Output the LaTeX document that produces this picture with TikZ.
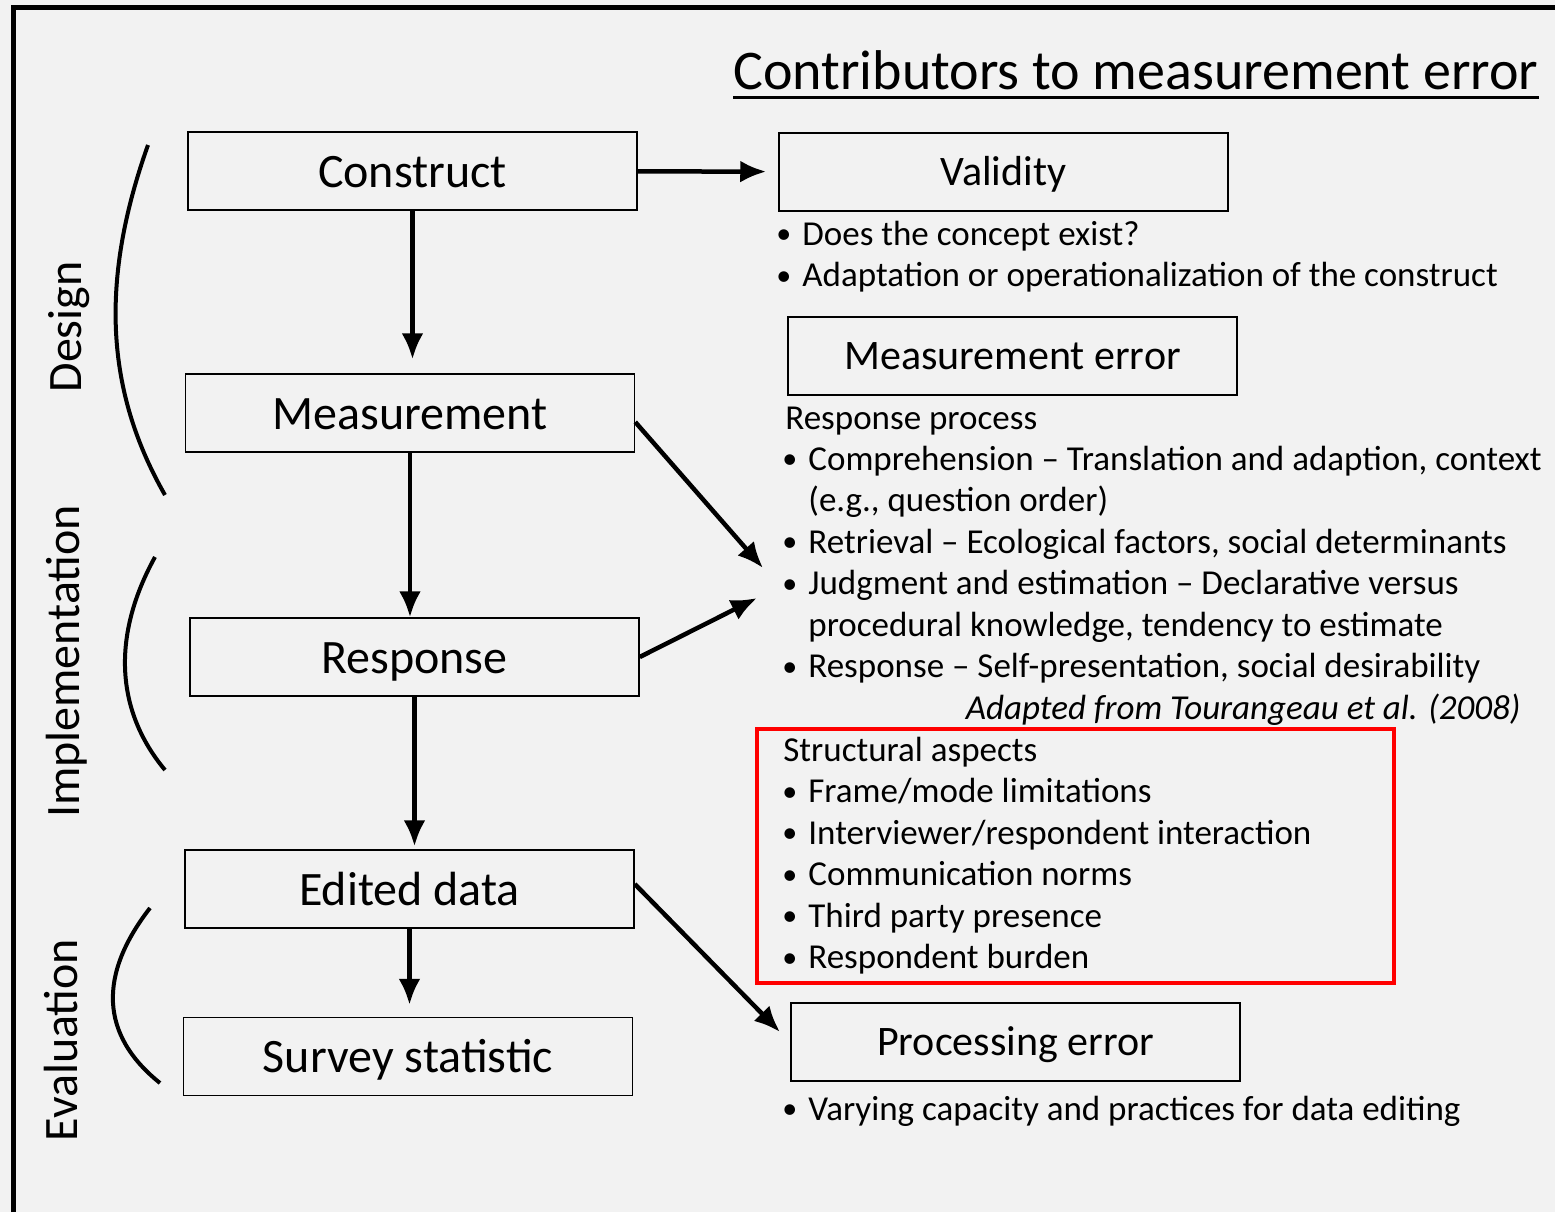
\documentclass[tikz,border=0pt]{standalone}
\usepackage{fontspec}
\setmainfont{Carlito}
\usetikzlibrary{arrows.meta}

\definecolor{paper}{HTML}{F2F2F2}

\newcommand{\dotitem}{\makebox[13pt][l]{\fontsize{15}{15}\selectfont\raisebox{0.6pt}{\textbullet}}}

\tikzset{
	stage/.style = {draw, line width = 0.75pt, minimum width = 224.5pt, minimum height = 39pt, text height = 19pt, text depth = 3pt, font = \fontsize{24}{28}\selectfont},
	source/.style = {draw, line width = 0.75pt, minimum width = 224.5pt, minimum height = 39pt, text height = 16.5pt, text depth = 3.5pt, font = \fontsize{21}{25}\selectfont},
	line/.style = {anchor = base west, inner sep = 0pt, font = \fontsize{17.5}{21}\selectfont},
	phase/.style = {anchor = base, rotate = 90, inner sep = 0pt, font = \fontsize{24}{28}\selectfont},
	brace/.style = {line width = 2pt},
}

\begin{document}
\begin{tikzpicture}[> = {Latex[length = 13pt, width = 11pt]}, x = 0.5pt, y = -0.5pt]

	\fill [paper] (0, 0) rectangle (1555, 1212);
	\useasboundingbox (0, 0) rectangle (1555, 1212);
	\draw [line width = 2.5pt] (13.5, 1212) -- (13.5, 7.5) -- (1555, 7.5);

	\node [anchor = base west, inner sep = 0pt, font = \fontsize{28}{33}\selectfont] (title) at (733, 89) {Contributors to measurement error};
	\draw [line width = 1.5pt] ([yshift = -4pt] title.base west) -- ([yshift = -4pt] title.base east);

	% stages
	\node [stage] (construct) at (412.5, 171) {Construct};
	\node [stage] (measurement) at (410, 413) {Measurement};
	\node [stage] (response) at (414.5, 657) {Response};
	\node [stage] (edited) at (409.5, 889) {Edited data};
	\node [stage] (statistic) at (408, 1056.5) {Survey statistic};

	\node [phase] (design) at (82, 327) {Design};
	\node [phase] (implementation) at (79, 661.5) {Implementation};
	\node [phase] (evaluation) at (77, 1040) {Evaluation};

	\draw [brace] (148, 145) .. controls (100, 280) and (105, 390) .. (165, 495);
	\draw [brace] (155, 557) .. controls (112, 635) and (115, 710) .. (165, 770);
	\draw [brace] (150, 908) .. controls (98, 975) and (100, 1035) .. (160, 1083);

	% error sources
	\node [source] (validity) at (1003.5, 172) {Validity};
	\node [source] (error) at (1012.5, 356) {Measurement error};
	\node [source] (processing) at (1015.5, 1042) {Processing error};

	\node [line] (concept) at (776, 245) {\dotitem Does the concept exist?};
	\node [line] (adaptation) at (776, 286.5) {\dotitem Adaptation or operationalization of the construct};

	\node [line] (process) at (785, 429) {Response process};
	\node [line] (comprehension) at (782, 470) {\dotitem Comprehension – Translation and adaption, context};
	\node [line] (order) at (808, 511.5) {(e.g., question order)};
	\node [line] (retrieval) at (782, 553) {\dotitem Retrieval – Ecological factors, social determinants};
	\node [line] (judgment) at (782, 594.5) {\dotitem Judgment and estimation – Declarative versus};
	\node [line] (knowledge) at (808, 636) {procedural knowledge, tendency to estimate};
	\node [line] (reply) at (782, 677.5) {\dotitem Response – Self-presentation, social desirability};
	\node [line, anchor = base east] (cite) at (1521, 719) {\itshape Adapted from Tourangeau et al. (2008)};

	\draw [red, line width = 2pt] (757, 729) rectangle (1394, 983);
	\node [line] (structural) at (783, 761) {Structural aspects};
	\node [line] (frame) at (782, 802.5) {\dotitem Frame/mode limitations};
	\node [line] (interaction) at (782, 844) {\dotitem Interviewer/respondent interaction};
	\node [line] (norms) at (782, 885.5) {\dotitem Communication norms};
	\node [line] (presence) at (782, 927) {\dotitem Third party presence};
	\node [line] (burden) at (782, 968.5) {\dotitem Respondent burden};

	\node [line] (editing) at (782, 1120) {\dotitem Varying capacity and practices for data editing};

	\coordinate (judgment in) at (763, 568);
	\coordinate (estimate in) at (757, 598);
	\coordinate (processing in) at (780, 1032);

	\begin{scope}[->, line width = 2.25pt]
	
		\draw [shorten > = 6pt] (construct) -- (validity);
		\draw [shorten > = 7pt] (construct.south) -- (construct.south |- measurement.north);
		\draw (measurement.south) -- (measurement.south |- response.north);
		\draw [shorten > = 1.5pt] (response.south) -- (response.south |- edited.north);
		\draw [shorten > = 6pt] (edited.south) -- (edited.south |- statistic.north);
	
		\draw ([yshift = -4.5pt] measurement.east) -- (judgment in);
		\draw (response.east) -- (estimate in);
		\draw ([yshift = 2.5pt] edited.east) -- (processing in);
	
	\end{scope}

\end{tikzpicture}
\end{document}
